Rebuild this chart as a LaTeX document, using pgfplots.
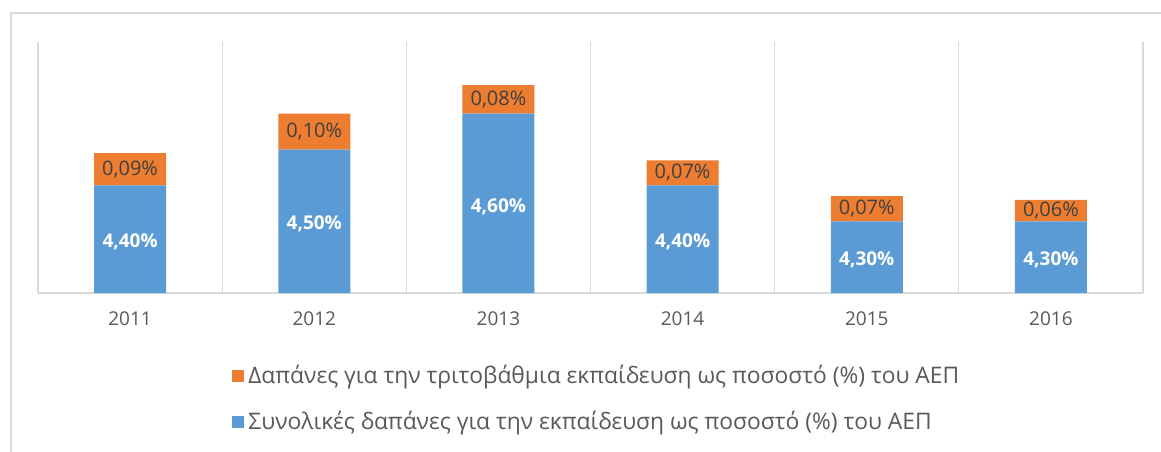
\documentclass[border=0pt]{standalone}
\usepackage{fontspec}
\setmainfont{Open Sans}
\usepackage{pgfplots}
\usepackage{pgfplotstable}
\pgfplotsset{compat=1.18}
\definecolor{cblue}{HTML}{5B9BD5}
\definecolor{corange}{HTML}{ED7D31}
\definecolor{ctext}{HTML}{595959}
\definecolor{cdark}{HTML}{404040}
\definecolor{cgrid}{HTML}{D9D9D9}
\pgfplotstableread{
x total tert
0 4.40 0.09
1 4.50 0.10
2 4.60 0.08
3 4.40 0.07
4 4.30 0.07
5 4.30 0.06
}\data
\pgfplotsset{
  common/.style={
    at={(19pt,79pt)}, anchor=south west, scale only axis,
    width=552.5pt, height=125.5pt,
    ymin=4.1, ymax=4.8, xmin=-0.5, xmax=5.5,
  },
}
\begin{document}
\begin{tikzpicture}
\path[use as bounding box, fill=white] (0,0) rectangle (580.5pt,225.5pt);
\draw[cgrid, line width=0.9pt] (5.5pt,-2pt) -- (5.5pt,219pt) -- (583pt,219pt);
\begin{axis}[
  common,
  ybar stacked, bar width=36pt,
  axis x line*=bottom, axis y line=none,
  x axis line style={cgrid, line width=0.9pt, -},
  ytick=\empty,
  xtick={0,1,2,3,4,5},
  xticklabels={2011,2012,2013,2014,2015,2016},
  minor xtick={-0.5,0.5,1.5,2.5,3.5,4.5,5.5},
  xminorgrids, minor grid style={cgrid, line width=0.6pt},
  major tick length=0pt, minor tick length=0pt,
  xticklabel style={font=\fontsize{9.5}{11}\selectfont, text=ctext, yshift=-6pt},
  reverse legend,
  legend style={at={(axis description cs:0.1756,-0.27)}, anchor=north west,
    draw=none, fill=none, font=\fontsize{11.4}{13}\selectfont, text=ctext,
    row sep=8.5pt, inner sep=0pt},
  legend cell align=left,
  legend image code/.code={\fill[#1] (0pt,-3pt) rectangle (6pt,3pt);},
]
\addplot[fill=cblue, draw=none] table[x=x, y=total] {\data};
\addlegendentry{Συνολικές δαπάνες για την εκπαίδευση ως ποσοστό (\%) του ΑΕΠ}
\addplot[fill=corange, draw=none] table[x=x, y=tert] {\data};
\addlegendentry{Δαπάνες για την τριτοβάθμια εκπαίδευση ως ποσοστό (\%) του ΑΕΠ}
\end{axis}
\begin{axis}[
  common, hide axis,
  nodes near coords={\pgfmathprintnumber[fixed,fixed zerofill,precision=2,use comma,assume math mode=true]{\pgfplotspointmeta}\%},
  nodes near coords align={center},
]
\addplot[draw=none, mark=none, point meta=\thisrow{total},
  every node near coord/.append style={text=white, font=\fontsize{9.5}{11}\selectfont\bfseries, anchor=center, yshift=-1.5pt}]
  table[x=x, y expr={(\thisrow{total}+4.1)/2}] {\data};
\addplot[draw=none, mark=none, point meta=\thisrow{tert},
  every node near coord/.append style={text=cdark, font=\fontsize{10}{12}\selectfont, anchor=center}]
  table[x=x, y expr={\thisrow{total}+\thisrow{tert}/2}] {\data};
\end{axis}
\end{tikzpicture}
\end{document}
